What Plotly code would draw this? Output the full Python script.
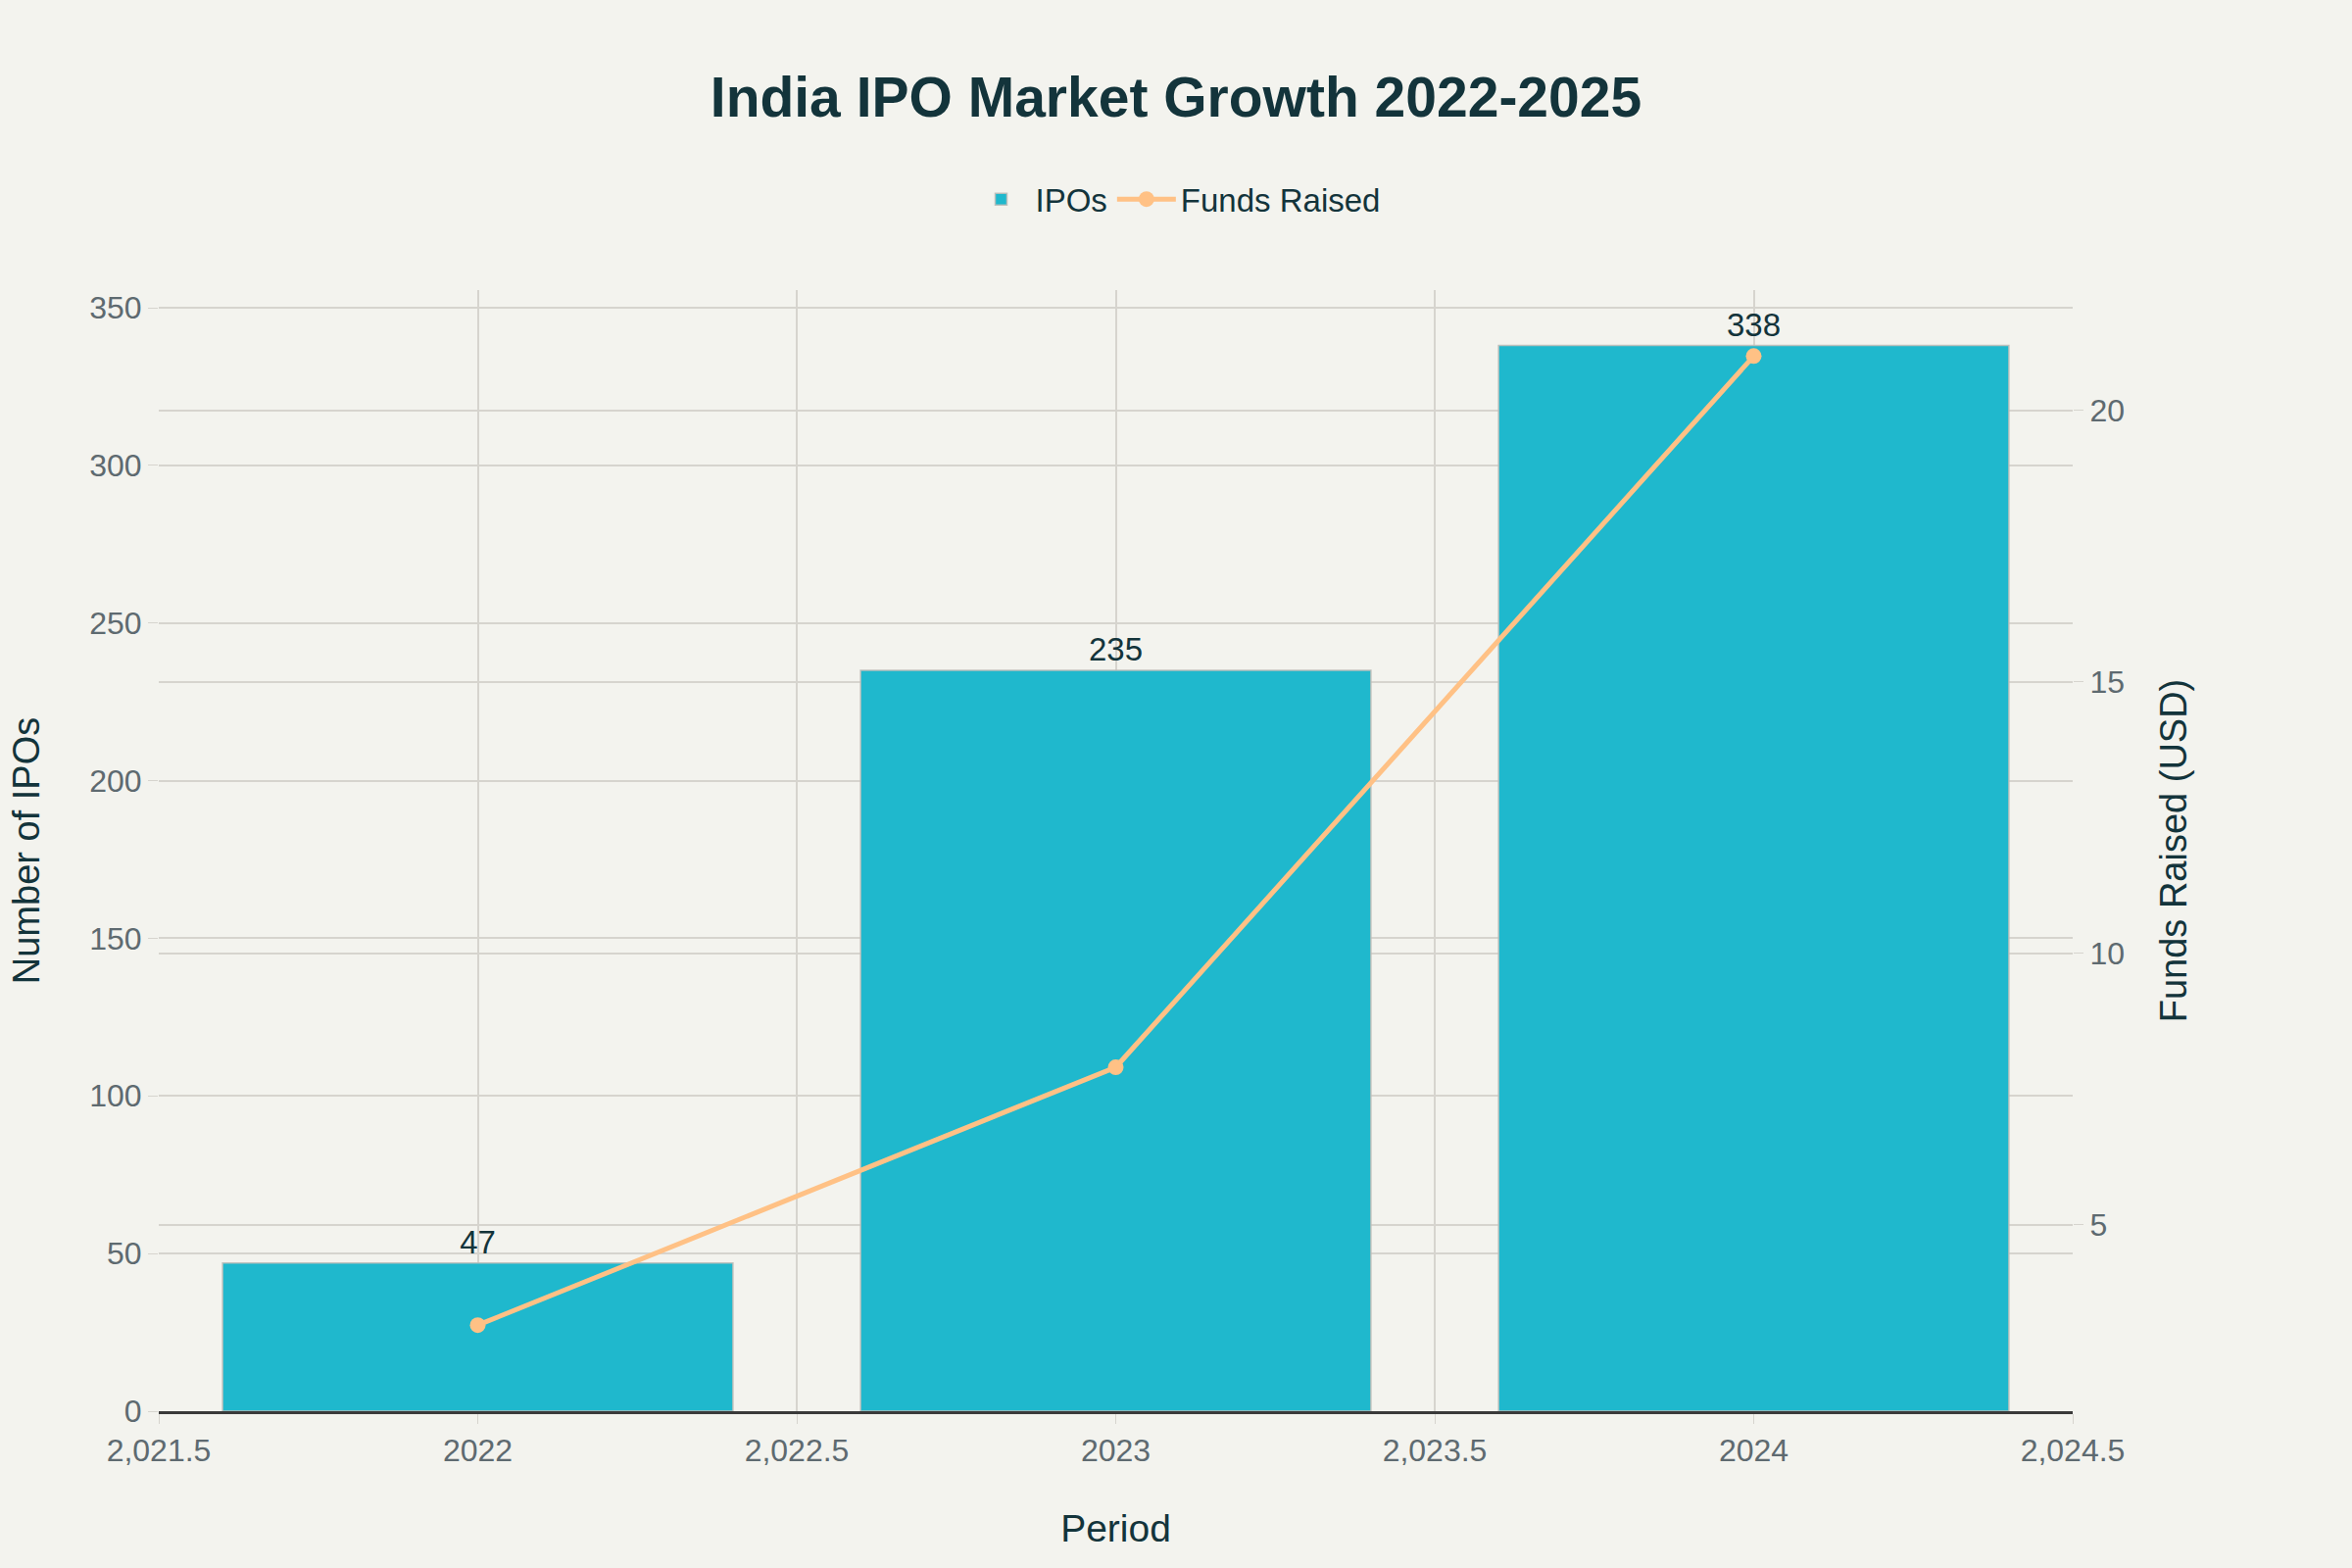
import plotly.graph_objects as go

# data
years = [2022, 2023, 2024]
ipo_counts = [47, 235, 338]
funds_raised = [3.15, 7.9, 21.0]

bar_color = "#1FB8CD"
line_color = "#FFC185"
text_dark = "#13343B"
tick_grey = "#5E6A70"
grid_col = "#D6D4CE"
font_family = "Liberation Sans, Arial, sans-serif"

fig = go.Figure()

fig.add_trace(go.Bar(
    x=years, y=ipo_counts, name="IPOs",
    marker=dict(color=bar_color, line=dict(color="rgba(190,190,185,0.9)", width=1.5)),
    text=ipo_counts, textposition="outside", cliponaxis=False,
    textfont=dict(size=33, color=text_dark),
    yaxis="y",
))

fig.add_trace(go.Scatter(
    x=years, y=funds_raised, name="Funds Raised",
    mode="lines+markers",
    line=dict(color=line_color, width=5),
    marker=dict(color=line_color, size=16),
    yaxis="y2",
))

fig.update_layout(
    width=2400, height=1600,
    paper_bgcolor="#F3F3EE", plot_bgcolor="#F3F3EE",
    font=dict(family=font_family, size=30, color=text_dark),
    title=dict(text="<b>India IPO Market Growth 2022-2025</b>",
               x=0.5, xanchor="center", y=0.938, yanchor="middle",
               font=dict(size=57, color=text_dark)),
    legend=dict(orientation="h", xref="container", yref="container",
                x=0.5, xanchor="center", y=0.873, yanchor="middle",
                itemwidth=60,
                font=dict(size=33, color=text_dark), bgcolor="rgba(0,0,0,0)"),
    margin=dict(l=162, r=285, t=296, b=160),
    bargap=0.2,
    xaxis=dict(
        title=dict(text="Period", font=dict(size=39, color=text_dark), standoff=49),
        range=[2021.5, 2024.5], dtick=0.5, tick0=2021.5,
        showgrid=True, gridcolor=grid_col, gridwidth=1.5,
        showline=True, linecolor="#3A3A3A", linewidth=3,
        ticks="outside", ticklen=10, tickcolor=grid_col,
        tickfont=dict(size=32, color=tick_grey),
        zeroline=False,
    ),
    yaxis=dict(
        title=dict(text="Number of IPOs", font=dict(size=38, color=text_dark), standoff=38),
        range=[0, 355.6], dtick=50,
        showgrid=True, gridcolor=grid_col, gridwidth=2,
        ticks="outside", ticklen=10, tickcolor=grid_col,
        tickfont=dict(size=32, color=tick_grey),
        zeroline=False,
    ),
    yaxis2=dict(
        title=dict(text="Funds Raised (USD)", font=dict(size=38, color=text_dark), standoff=37),
        overlaying="y", side="right",
        range=[1.565, 22.215], dtick=5,
        showgrid=True, gridcolor=grid_col, gridwidth=2,
        ticks="outside", ticklen=10, tickcolor=grid_col,
        tickfont=dict(size=32, color=tick_grey),
        zeroline=False,
    ),
)

# drop the browser's default body margin so the figure sits at the page corner
fig.write_html("out.html", config={"displayModeBar": False},
               post_script="document.body.style.margin='0px';")
